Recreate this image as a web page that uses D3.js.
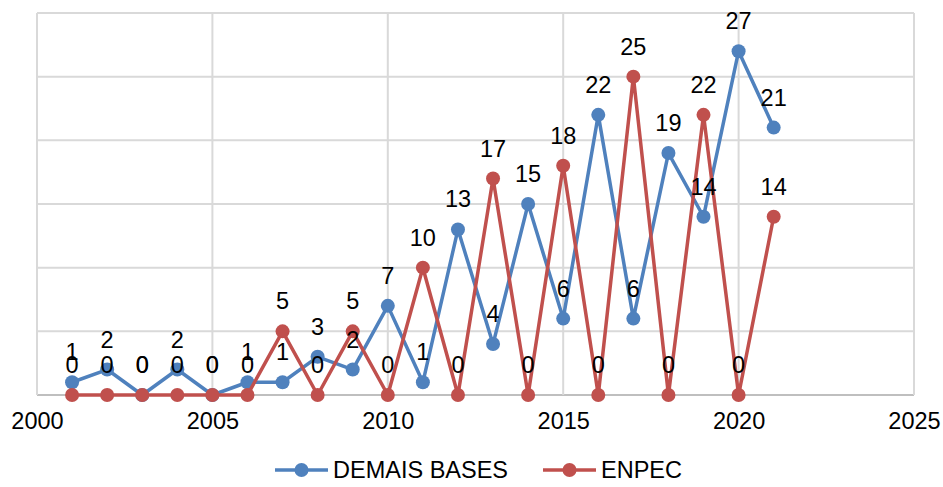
<!DOCTYPE html>
<html>
<head>
<meta charset="utf-8">
<script src="https://cdn.jsdelivr.net/npm/d3@7"></script>
<style>
  body { margin: 0; background: #fff; }
  svg { font-family: "Liberation Sans", Arial, sans-serif; }
</style>
</head>
<body>
<div id="chart"></div>
<script>
const years = [2001, 2002, 2003, 2004, 2005, 2006, 2007, 2008, 2009, 2010, 2011,
  2012, 2013, 2014, 2015, 2016, 2017, 2018, 2019, 2020, 2021];
const demaisBases = [1, 2, 0, 2, 0, 1, 1, 3, 2, 7, 1, 13, 4, 15, 6, 22, 6, 19, 14, 27, 21];
const enpec = [0, 0, 0, 0, 0, 0, 5, 0, 5, 0, 10, 0, 17, 0, 18, 0, 25, 0, 22, 0, 14];
const xTicks = [2000, 2005, 2010, 2015, 2020, 2025];
const yGrid = [0, 5, 10, 15, 20, 25, 30];

const series = [
  { name: 'DEMAIS BASES', values: demaisBases, color: '#4f81bd' },
  { name: 'ENPEC', values: enpec, color: '#c0504d' }
];

const width = 943;
const height = 487;
const plotLeft = 37, plotRight = 914, plotTop = 13, plotBottom = 395;
const fontSize = 23.5;

const svg = d3.select('#chart').append('svg')
  .attr('width', width)
  .attr('height', height);

const x = d3.scaleLinear().domain([2000, 2025]).range([plotLeft, plotRight]);
const y = d3.scaleLinear().domain([0, 30]).range([plotBottom, plotTop]);

// gridlines
svg.append('g').selectAll('line')
  .data(yGrid).enter().append('line')
  .attr('x1', plotLeft).attr('x2', plotRight)
  .attr('y1', d => y(d)).attr('y2', d => y(d))
  .attr('stroke', d => d === 0 ? '#bfbfbf' : '#d9d9d9')
  .attr('stroke-width', 2);

svg.append('g').selectAll('line')
  .data(xTicks).enter().append('line')
  .attr('x1', d => x(d)).attr('x2', d => x(d))
  .attr('y1', plotTop).attr('y2', plotBottom)
  .attr('stroke', '#d9d9d9')
  .attr('stroke-width', 2);

// x axis labels
const xAxis = d3.axisBottom(x).tickValues(xTicks).tickFormat(d3.format('d')).tickSize(0).tickPadding(17);
const gx = svg.append('g')
  .attr('transform', 'translate(0,' + plotBottom + ')')
  .call(xAxis);
gx.select('.domain').remove();
gx.selectAll('text')
  .attr('font-size', fontSize)
  .attr('fill', '#000')
  .style('font-family', '"Liberation Sans", Arial, sans-serif');

const line = d3.line()
  .x((d, i) => x(years[i]))
  .y(d => y(d));

// lines and markers
series.forEach(s => {
  svg.append('path')
    .datum(s.values)
    .attr('fill', 'none')
    .attr('stroke', s.color)
    .attr('stroke-width', 3.5)
    .attr('stroke-linejoin', 'round')
    .attr('d', line);

  svg.append('g').selectAll('circle')
    .data(s.values).enter().append('circle')
    .attr('cx', (d, i) => x(years[i]))
    .attr('cy', d => y(d))
    .attr('r', 7)
    .attr('fill', s.color);
});

// data labels
series.forEach(s => {
  svg.append('g').selectAll('text')
    .data(s.values).enter().append('text')
    .attr('x', (d, i) => x(years[i]))
    .attr('y', d => y(d) - 22)
    .attr('text-anchor', 'middle')
    .attr('font-size', fontSize)
    .attr('fill', '#000')
    .text(d => d);
});

// legend
const legend = svg.append('g').attr('transform', 'translate(0,470)');
const legendX = [275, 543];
series.forEach((s, i) => {
  const g = legend.append('g').attr('transform', 'translate(' + legendX[i] + ',0)');
  g.append('line')
    .attr('x1', 0).attr('x2', 53)
    .attr('y1', 0).attr('y2', 0)
    .attr('stroke', s.color).attr('stroke-width', 3.5);
  g.append('circle').attr('cx', 26.5).attr('cy', 0).attr('r', 7).attr('fill', s.color);
  g.append('text')
    .attr('x', 58).attr('y', 8)
    .attr('font-size', fontSize)
    .attr('fill', '#000')
    .text(s.name);
});
</script>
</body>
</html>
